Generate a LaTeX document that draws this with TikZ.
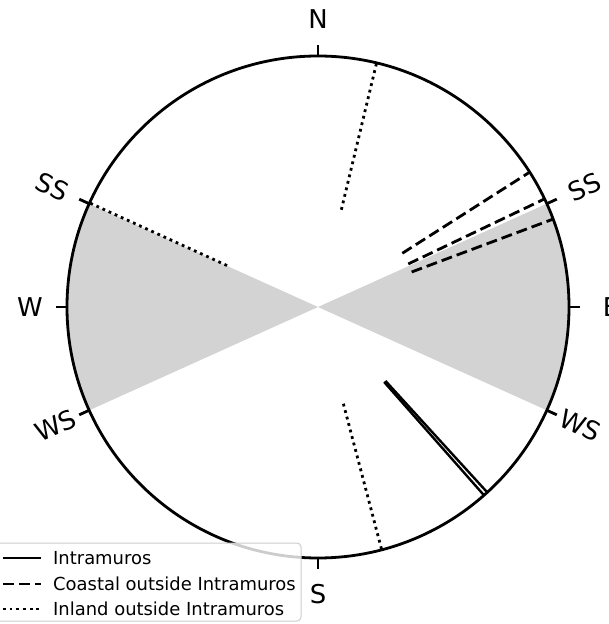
\documentclass[tikz,border=0pt]{standalone}
\usepackage{fontspec}
\setmainfont{DejaVu Sans}
\definecolor{sunfill}{RGB}{211,211,211}
\definecolor{keyframe}{RGB}{204,204,204}
\tikzset{
  rim/.style={line width=2.8bp},
  intra/.style={line width=2.4bp},
  coast/.style={line width=2.8bp, dash pattern=on 11bp off 5bp},
  inland/.style={line width=2.8bp, dash pattern=on 2.8bp off 3.9bp},
  dirlabel/.style={font=\fontsize{26}{30}\selectfont, inner sep=0pt},
  keytext/.style={font=\fontsize{18}{21}\selectfont, anchor=west, inner sep=0pt}
}
\begin{document}
\begin{tikzpicture}[x=1bp,y=1bp]
\useasboundingbox (-318,-317) rectangle (291,307);

% solstice sectors
\fill[sunfill] (0,0) -- (-24.3:251) arc (-24.3:24.3:251) -- cycle;
\fill[sunfill] (0,0) -- (155.7:251) arc (155.7:204.3:251) -- cycle;

% orientations
\draw[intra] (-47.6:100) -- (-47.6:251);
\draw[intra] (-48.6:100) -- (-48.6:251);
\foreach \a in {32.5,25.5,20.5}
  \draw[coast] (\a:100) -- (\a:251);
\foreach \a in {76.5,155.5,-75.3}
  \draw[inland] (\a:100) -- (\a:251);

% frame and ticks
\draw[rim] (0,0) circle (251);
\foreach \a in {0,90,180,270,24.3,155.7,204.3,-24.3}
  \draw[rim] (\a:251) -- (\a:262);

\node[dirlabel] (n) at (90:288) {N};
\node[dirlabel] (s) at (270:287) {S};
\node[dirlabel] (w) at (180:288) {W};
\node[dirlabel] (e) at (0:293) {E};
\node[dirlabel, rotate=-24.3] (ssw) at (155.7:292) {SS};
\node[dirlabel, rotate=24.3] (sse) at (24.3:292) {SS};
\node[dirlabel, rotate=24.3] (wsw) at (204.3:288) {WS};
\node[dirlabel, rotate=-24.3] (wse) at (-24.3:288) {WS};

% legend
\draw[draw=keyframe, fill=white, fill opacity=0.8, line width=1bp, rounded corners=4bp]
  (-328,-314) rectangle (-17,-236);
\node[keytext] (k1) at (-265,-251) {Intramuros};
\node[keytext] (k2) at (-265,-277) {Coastal outside Intramuros};
\node[keytext] (k3) at (-265,-302) {Inland outside Intramuros};
\draw[intra, line width=2.8bp] ([xshift=-50bp]k1.west) -- ([xshift=-12bp]k1.west);
\draw[coast] ([xshift=-50bp]k2.west) -- ([xshift=-12bp]k2.west);
\draw[inland] ([xshift=-50bp]k3.west) -- ([xshift=-12bp]k3.west);
\end{tikzpicture}
\end{document}
